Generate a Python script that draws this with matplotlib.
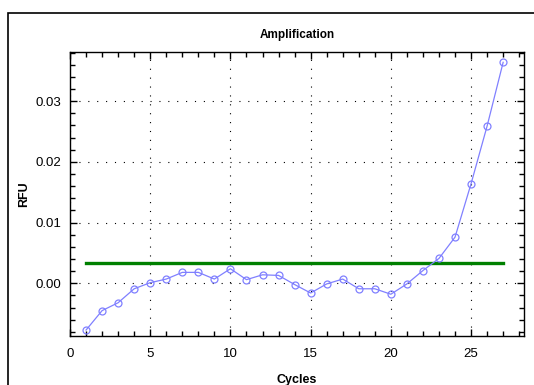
import matplotlib
matplotlib.use("Agg")
import matplotlib.pyplot as plt
from matplotlib.patches import Rectangle
from matplotlib.ticker import MultipleLocator, FormatStrFormatter

plt.rcParams['font.family'] = ['Liberation Sans', 'DejaVu Sans']

cycles = list(range(1, 28))
rfu = [-0.0077, -0.0045, -0.0032, -0.0009, 0.0001, 0.0007, 0.0018, 0.0018, 0.0007,
       0.0024, 0.0006, 0.0014, 0.0013, -0.0002, -0.0016, -0.0001, 0.0007, -0.0009,
       -0.0009, -0.0018, -0.0001, 0.0021, 0.0041, 0.0076, 0.0164, 0.0259, 0.0364]
threshold = 0.0033
thr_x = [1, 27]

fig = plt.figure(figsize=(5.34, 3.85), dpi=100)
# outer frame of the panel
fig.patches.append(Rectangle((8/534, -0.1), 1.2, 1 - 13/385 + 0.1, transform=fig.transFigure,
                             fill=False, edgecolor='black', linewidth=1.2))
ax = fig.add_axes([70/534, 1 - 336/385, 454/534, (336 - 51.7)/385])

ax.plot(thr_x, [threshold, threshold], color='#008000', linewidth=2.4, zorder=2)
ax.plot(cycles, rfu, color='#8080ff', linewidth=0.9, marker='o', markersize=5,
        markerfacecolor='none', markeredgecolor='#8080ff', markeredgewidth=0.9, zorder=3)

ax.set_xlim(0, 28.3)
ax.set_ylim(-0.00868, 0.03815)
ax.xaxis.set_major_locator(MultipleLocator(5))
ax.xaxis.set_minor_locator(MultipleLocator(1))
ax.yaxis.set_major_locator(MultipleLocator(0.01))
ax.yaxis.set_minor_locator(MultipleLocator(0.002))
ax.yaxis.set_major_formatter(FormatStrFormatter('%.2f'))

ax.grid(True, which='major', color='black', linestyle=(0, (1, 7)), linewidth=0.8)
ax.tick_params(which='both', top=True, right=True, direction='in', labelsize=9.5, width=1)
ax.tick_params(which='major', length=5)
ax.tick_params(which='minor', length=3.5)
ax.tick_params(axis='x', which='major', pad=8.6)
ax.tick_params(axis='y', which='major', pad=6)
for s in ax.spines.values():
    s.set_linewidth(1)

ax.set_title('Amplification', fontsize=8.5, fontweight='bold', pad=10)
ax.set_xlabel('Cycles', fontsize=9, fontweight='bold', labelpad=10)
ax.set_ylabel('RFU', fontsize=9, fontweight='bold', labelpad=4)

fig.savefig('out.png', dpi=100)
